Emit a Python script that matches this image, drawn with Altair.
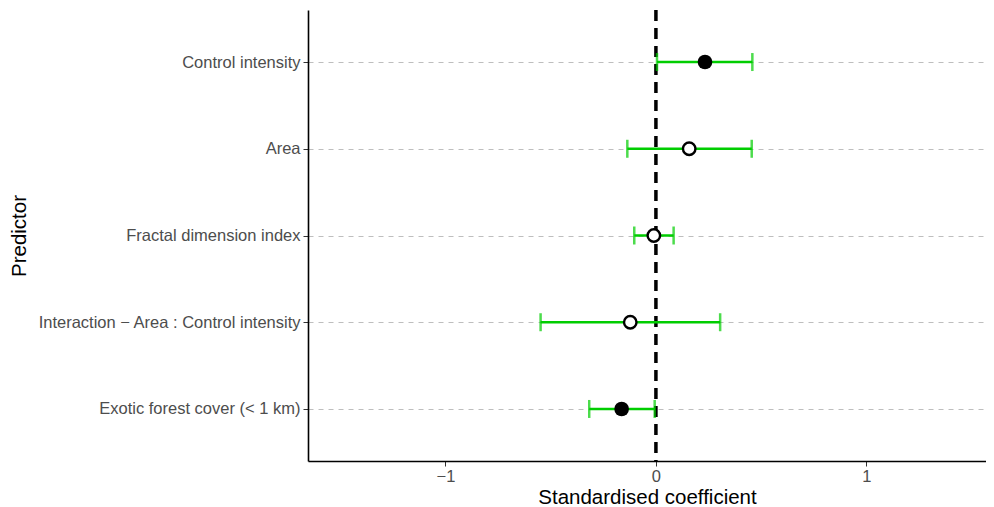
import altair as alt
import pandas as pd

predictors = [
    "Control intensity",
    "Area",
    "Fractal dimension index",
    "Interaction \u2212 Area : Control intensity",
    "Exotic forest cover (< 1 km)",
]
estimate = [0.233, 0.158, -0.010, -0.122, -0.163]
lower = [0.005, -0.136, -0.103, -0.548, -0.317]
upper = [0.458, 0.455, 0.084, 0.305, -0.006]
significant = ["yes", "no", "no", "no", "yes"]

df = pd.DataFrame({
    "Predictor": predictors,
    "est": estimate,
    "lo": lower,
    "hi": upper,
    "sig": significant,
})

xscale = alt.Scale(domain=[-1.653, 1.568], nice=False, zero=False)
yscale = alt.Scale(type="point", domain=predictors, padding=0.6)

x_axis = alt.Axis(
    values=[-1, 0, 1],
    labelExpr="datum.value < 0 ? '\u2212' + abs(datum.value) : '' + datum.value",
    title="Standardised coefficient", grid=False, tickColor="#333333", tickSize=5,
    labelPadding=2, titlePadding=3,
    labelFontSize=16.5, titleFontSize=20.5,
)
y_axis = alt.Axis(
    title="Predictor", grid=True, gridDash=[5, 5], gridColor="#BEBEBE", gridWidth=1,
    tickColor="#333333", tickSize=5, labelPadding=3, titleX=-279, labelLimit=400,
    labelFontSize=16.5, titleFontSize=20.5,
)

base = alt.Chart(df)

zero = alt.Chart(df).mark_rule(color="black", strokeWidth=2.5, strokeDash=[11, 7]).encode(
    x=alt.datum(0, scale=xscale)
)

bars = base.mark_rule(color="#00CD00", strokeWidth=2.5).encode(
    x=alt.X("lo:Q", scale=xscale, axis=x_axis),
    x2="hi:Q",
    y=alt.Y("Predictor:N", scale=yscale, axis=y_axis, sort=predictors),
)

cap_lo = base.mark_tick(color="#00CD00", thickness=2.5, size=18, orient="vertical").encode(
    x=alt.X("lo:Q", scale=xscale),
    y=alt.Y("Predictor:N", scale=yscale, sort=predictors),
)
cap_hi = base.mark_tick(color="#00CD00", thickness=2.5, size=18, orient="vertical").encode(
    x=alt.X("hi:Q", scale=xscale),
    y=alt.Y("Predictor:N", scale=yscale, sort=predictors),
)

pts_filled = base.transform_filter(alt.datum.sig == "yes").mark_point(
    shape="circle", filled=True, color="black", size=215, opacity=1
).encode(
    x=alt.X("est:Q", scale=xscale),
    y=alt.Y("Predictor:N", scale=yscale, sort=predictors),
)
pts_open = base.transform_filter(alt.datum.sig == "no").mark_point(
    shape="circle", filled=False, stroke="black", fill="white", fillOpacity=1,
    strokeWidth=2.4, size=155, opacity=1
).encode(
    x=alt.X("est:Q", scale=xscale),
    y=alt.Y("Predictor:N", scale=yscale, sort=predictors),
)

chart = alt.layer(zero, bars, cap_lo, cap_hi, pts_open, pts_filled).properties(
    width=678, height=451,
    padding={"left": 300, "top": 2, "right": 0, "bottom": 46},
    autosize=alt.AutoSizeParams(type="none"),
).configure_view(stroke=None).configure_axis(
    domainColor="black", domainWidth=1.6,
    labelFont="Liberation Sans", labelColor="#4D4D4D",
    titleFont="Liberation Sans", titleColor="black", titleFontWeight="normal",
)

chart.save("out.html", embed_options={"renderer": "svg", "actions": False})
